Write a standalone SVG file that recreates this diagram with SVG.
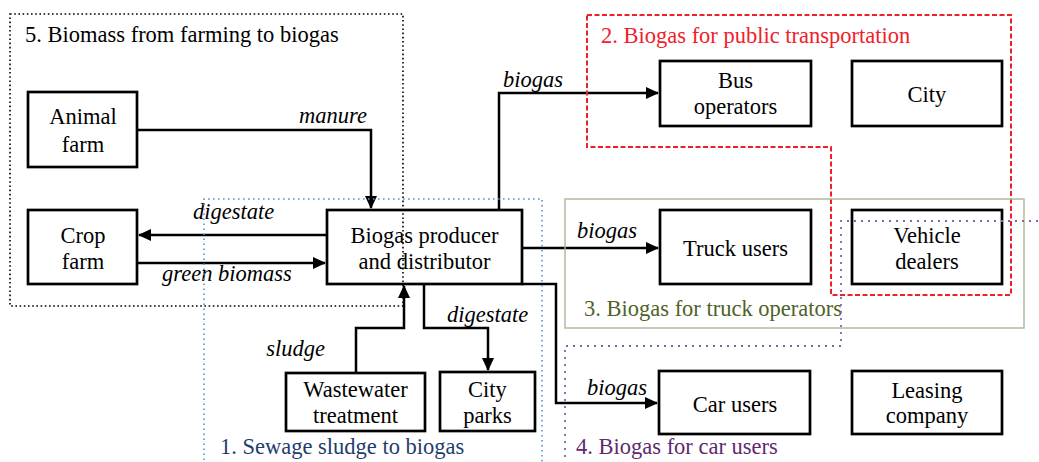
<svg xmlns="http://www.w3.org/2000/svg" width="1039" height="462" viewBox="0 0 1039 462">
<style>
.box{fill:none;stroke:#000;stroke-width:2.7}
.t{font-family:'Liberation Serif','Times New Roman',serif;font-size:22.5px;fill:#000;text-anchor:middle}
.l{font-family:'Liberation Serif','Times New Roman',serif;font-size:22.5px;font-style:italic;fill:#000}
.g{font-family:'Liberation Serif','Times New Roman',serif;font-size:22.5px}
.c{fill:none;stroke:#000;stroke-width:2.5;stroke-linejoin:miter}
</style>
<defs>
<marker id="ah" markerUnits="userSpaceOnUse" markerWidth="13" markerHeight="12" refX="12" refY="6" orient="auto">
<path d="M0,0 L13,6 L0,12 z" fill="#000"/>
</marker>
</defs>
<rect width="1039" height="462" fill="#fff"/>

<g id="connectors">
<path class="c" d="M137,130 H371 V208" marker-end="url(#ah)"/>
<path class="c" d="M327,235 H139" marker-end="url(#ah)"/>
<path class="c" d="M137,263 H325" marker-end="url(#ah)"/>
<path class="c" d="M499,210 V93 H658" marker-end="url(#ah)"/>
<path class="c" d="M522,248 H658" marker-end="url(#ah)"/>
<path class="c" d="M522,284 H556 V403 H657" marker-end="url(#ah)"/>
<path class="c" d="M356,373 V328 H404 V286" marker-end="url(#ah)"/>
<path class="c" d="M424,284 V328 H488 V370" marker-end="url(#ah)"/>
<text class="l" x="367" y="123" text-anchor="end">manure</text>
<text class="l" x="193" y="219">digestate</text>
<text class="l" x="162" y="281">green biomass</text>
<text class="l" x="503" y="87">biogas</text>
<text class="l" x="577" y="238">biogas</text>
<text class="l" x="587" y="395">biogas</text>
<text class="l" x="325" y="356" text-anchor="end">sludge</text>
<text class="l" x="447" y="322">digestate</text>
</g>

<g id="animal-farm"><rect class="box" x="28" y="92" width="109" height="75"/><text class="t" x="83" y="124">Animal</text><text class="t" x="83" y="152">farm</text></g>
<g id="crop-farm"><rect class="box" x="28" y="210" width="109" height="74"/><text class="t" x="83" y="243">Crop</text><text class="t" x="83" y="269">farm</text></g>
<g id="biogas-producer"><rect class="box" x="327" y="210" width="195" height="74"/><text class="t" x="424.5" y="243">Biogas producer</text><text class="t" x="424.5" y="269">and distributor</text></g>
<g id="bus-operators"><rect class="box" x="660" y="61" width="151" height="65"/><text class="t" x="735.5" y="88">Bus</text><text class="t" x="735.5" y="114">operators</text></g>
<g id="city"><rect class="box" x="852" y="61" width="150" height="65"/><text class="t" x="927" y="102">City</text></g>
<g id="truck-users"><rect class="box" x="660" y="210" width="151" height="74"/><text class="t" x="735.5" y="256">Truck users</text></g>
<g id="vehicle-dealers"><rect class="box" x="852" y="210" width="150" height="74"/><text class="t" x="927" y="243">Vehicle</text><text class="t" x="927" y="269">dealers</text></g>
<g id="wastewater"><rect class="box" x="286" y="373" width="139" height="58"/><text class="t" x="355.5" y="397">Wastewater</text><text class="t" x="355.5" y="423">treatment</text></g>
<g id="city-parks"><rect class="box" x="440" y="372" width="95" height="59"/><text class="t" x="487.5" y="397">City</text><text class="t" x="487.5" y="423">parks</text></g>
<g id="car-users"><rect class="box" x="659" y="371" width="151" height="63"/><text class="t" x="735" y="412">Car users</text></g>
<g id="leasing-company"><rect class="box" x="852" y="371" width="150" height="63"/><text class="t" x="927" y="398">Leasing</text><text class="t" x="927" y="423">company</text></g>

<g id="group5">
<rect x="10" y="14" width="393" height="292" fill="none" stroke="#000" stroke-width="1.6" stroke-dasharray="1.6 2.6"/>
<text class="g" x="25" y="42" fill="#000">5. Biomass from farming to biogas</text>
</g>
<g id="group2">
<path d="M587,15 H1011 V295 H831 V147 H587 Z" fill="none" stroke="#f0202a" stroke-width="2" stroke-dasharray="5 2.5"/>
<text class="g" x="601" y="43" fill="#f0202a">2. Biogas for public transportation</text>
</g>
<g id="group3">
<rect x="565" y="199" width="459" height="129" fill="none" stroke="#b0b698" stroke-width="1.4"/>
<text class="g" x="584" y="316" fill="#4f6228">3. Biogas for truck operators</text>
</g>
<g id="group1">
<path d="M204,470 V199 H542 V470" fill="none" stroke="#5b8fd0" stroke-width="1.6" stroke-dasharray="1.6 3.4"/>
<text class="g" x="220" y="454" fill="#1f3d6b">1. Sewage sludge to biogas</text>
</g>
<g id="group4">
<path d="M1045,221 H841 V346 H565 V470" fill="none" stroke="#7a68a8" stroke-width="1.8" stroke-dasharray="2 5"/>
<text class="g" x="576" y="454" fill="#5e2a6e">4. Biogas for car users</text>
</g>
</svg>
